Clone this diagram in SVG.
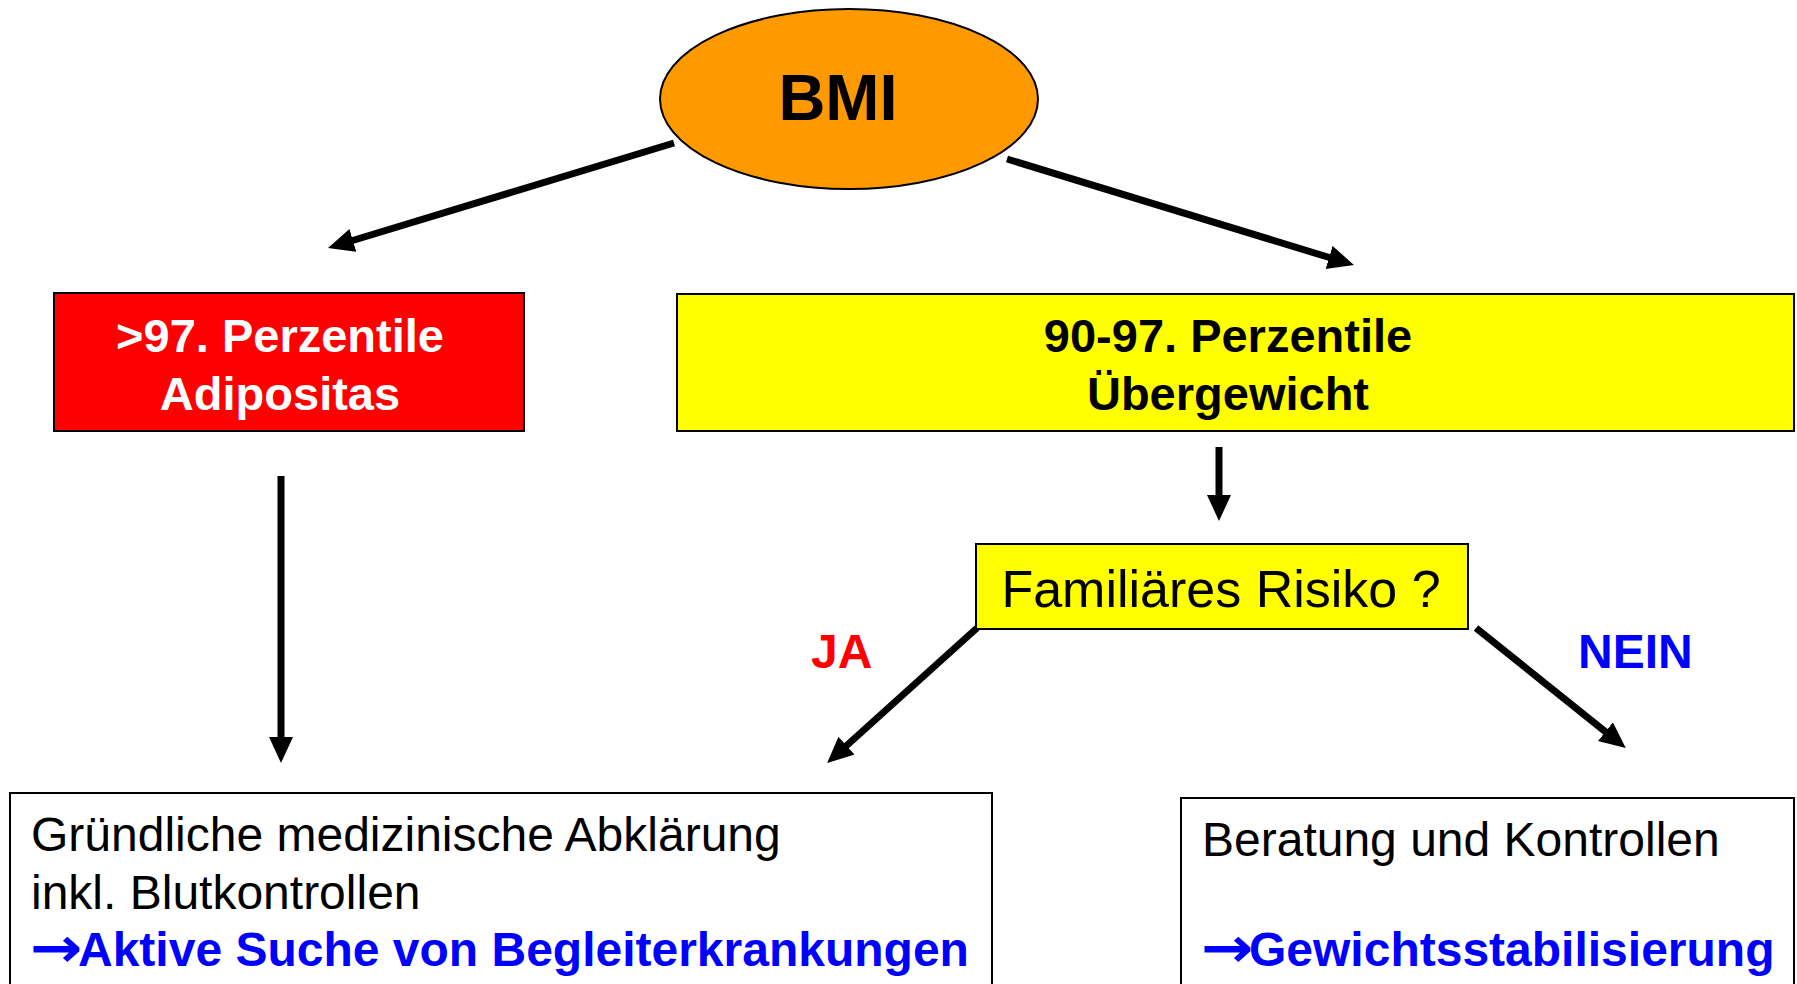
<svg xmlns="http://www.w3.org/2000/svg" width="1797" height="984" viewBox="0 0 1797 984">
<style>
text{font-family:"Liberation Sans",Arial,sans-serif}
.b{font-weight:bold}
.arr{font-family:"DejaVu Sans",sans-serif;font-weight:bold;font-size:56px;fill:#0000FF}
.box{stroke:#000;stroke-width:2}
.con{stroke:#000;stroke-width:7;fill:none}
</style>
<defs>
<marker id="ah" markerUnits="userSpaceOnUse" markerWidth="28" markerHeight="26" refX="2" refY="12" orient="auto">
<path d="M0,0 L26,12 L0,24 z" fill="#000"/>
</marker>
</defs>
<rect width="1797" height="984" fill="#fff"/>
<g id="connectors">
<line class="con" x1="674" y1="143" x2="351" y2="241" marker-end="url(#ah)"/>
<line class="con" x1="1007" y1="159" x2="1331" y2="258" marker-end="url(#ah)"/>
<line class="con" x1="1219" y1="447" x2="1219" y2="497" marker-end="url(#ah)"/>
<line class="con" x1="281" y1="476" x2="281" y2="739" marker-end="url(#ah)"/>
<line class="con" x1="977" y1="628" x2="845" y2="747" marker-end="url(#ah)"/>
<line class="con" x1="1476" y1="628" x2="1607" y2="733" marker-end="url(#ah)"/>
</g>
<g id="bmi">
<ellipse class="box" cx="849" cy="99" rx="189" ry="90" fill="#FF9900"/>
<text class="b" x="838" y="120" font-size="65" text-anchor="middle">BMI</text>
</g>
<g id="adipositas">
<rect class="box" x="54" y="293" width="470" height="138" fill="#FF0000"/>
<text class="b" x="280" y="352" font-size="47" text-anchor="middle" fill="#fff">&gt;97. Perzentile</text>
<text class="b" x="280" y="410" font-size="47" text-anchor="middle" fill="#fff">Adipositas</text>
</g>
<g id="uebergewicht">
<rect class="box" x="677" y="294" width="1117" height="137" fill="#FFFF00"/>
<text class="b" x="1228" y="352" font-size="47" text-anchor="middle">90-97. Perzentile</text>
<text class="b" x="1228" y="410" font-size="47" text-anchor="middle">Übergewicht</text>
</g>
<g id="risiko">
<rect class="box" x="976" y="544" width="492" height="85" fill="#FFFF00"/>
<text x="1221" y="607" font-size="52" text-anchor="middle">Familiäres Risiko ?</text>
</g>
<g id="label-ja">
<text class="b" x="811" y="668" font-size="48" fill="#FF0000">JA</text>
</g>
<g id="label-nein">
<text class="b" x="1578" y="668" font-size="48" fill="#0000FF">NEIN</text>
</g>
<g id="abklaerung">
<rect class="box" x="10" y="793" width="982" height="200" fill="#fff"/>
<text x="31" y="851" font-size="48">Gründliche medizinische Abklärung</text>
<text x="31" y="909" font-size="48">inkl. Blutkontrollen</text>
<text class="arr" transform="translate(30,967) scale(1.12,1)">→</text>
<text class="b" x="78" y="966" font-size="48" fill="#0000FF">Aktive Suche von Begleiterkrankungen</text>
</g>
<g id="beratung">
<rect class="box" x="1181" y="798" width="613" height="200" fill="#fff"/>
<text x="1202" y="856" font-size="48">Beratung und Kontrollen</text>
<text class="arr" transform="translate(1201,967) scale(1.12,1)">→</text>
<text class="b" x="1249" y="966" font-size="48" fill="#0000FF">Gewichtsstabilisierung</text>
</g>
</svg>
